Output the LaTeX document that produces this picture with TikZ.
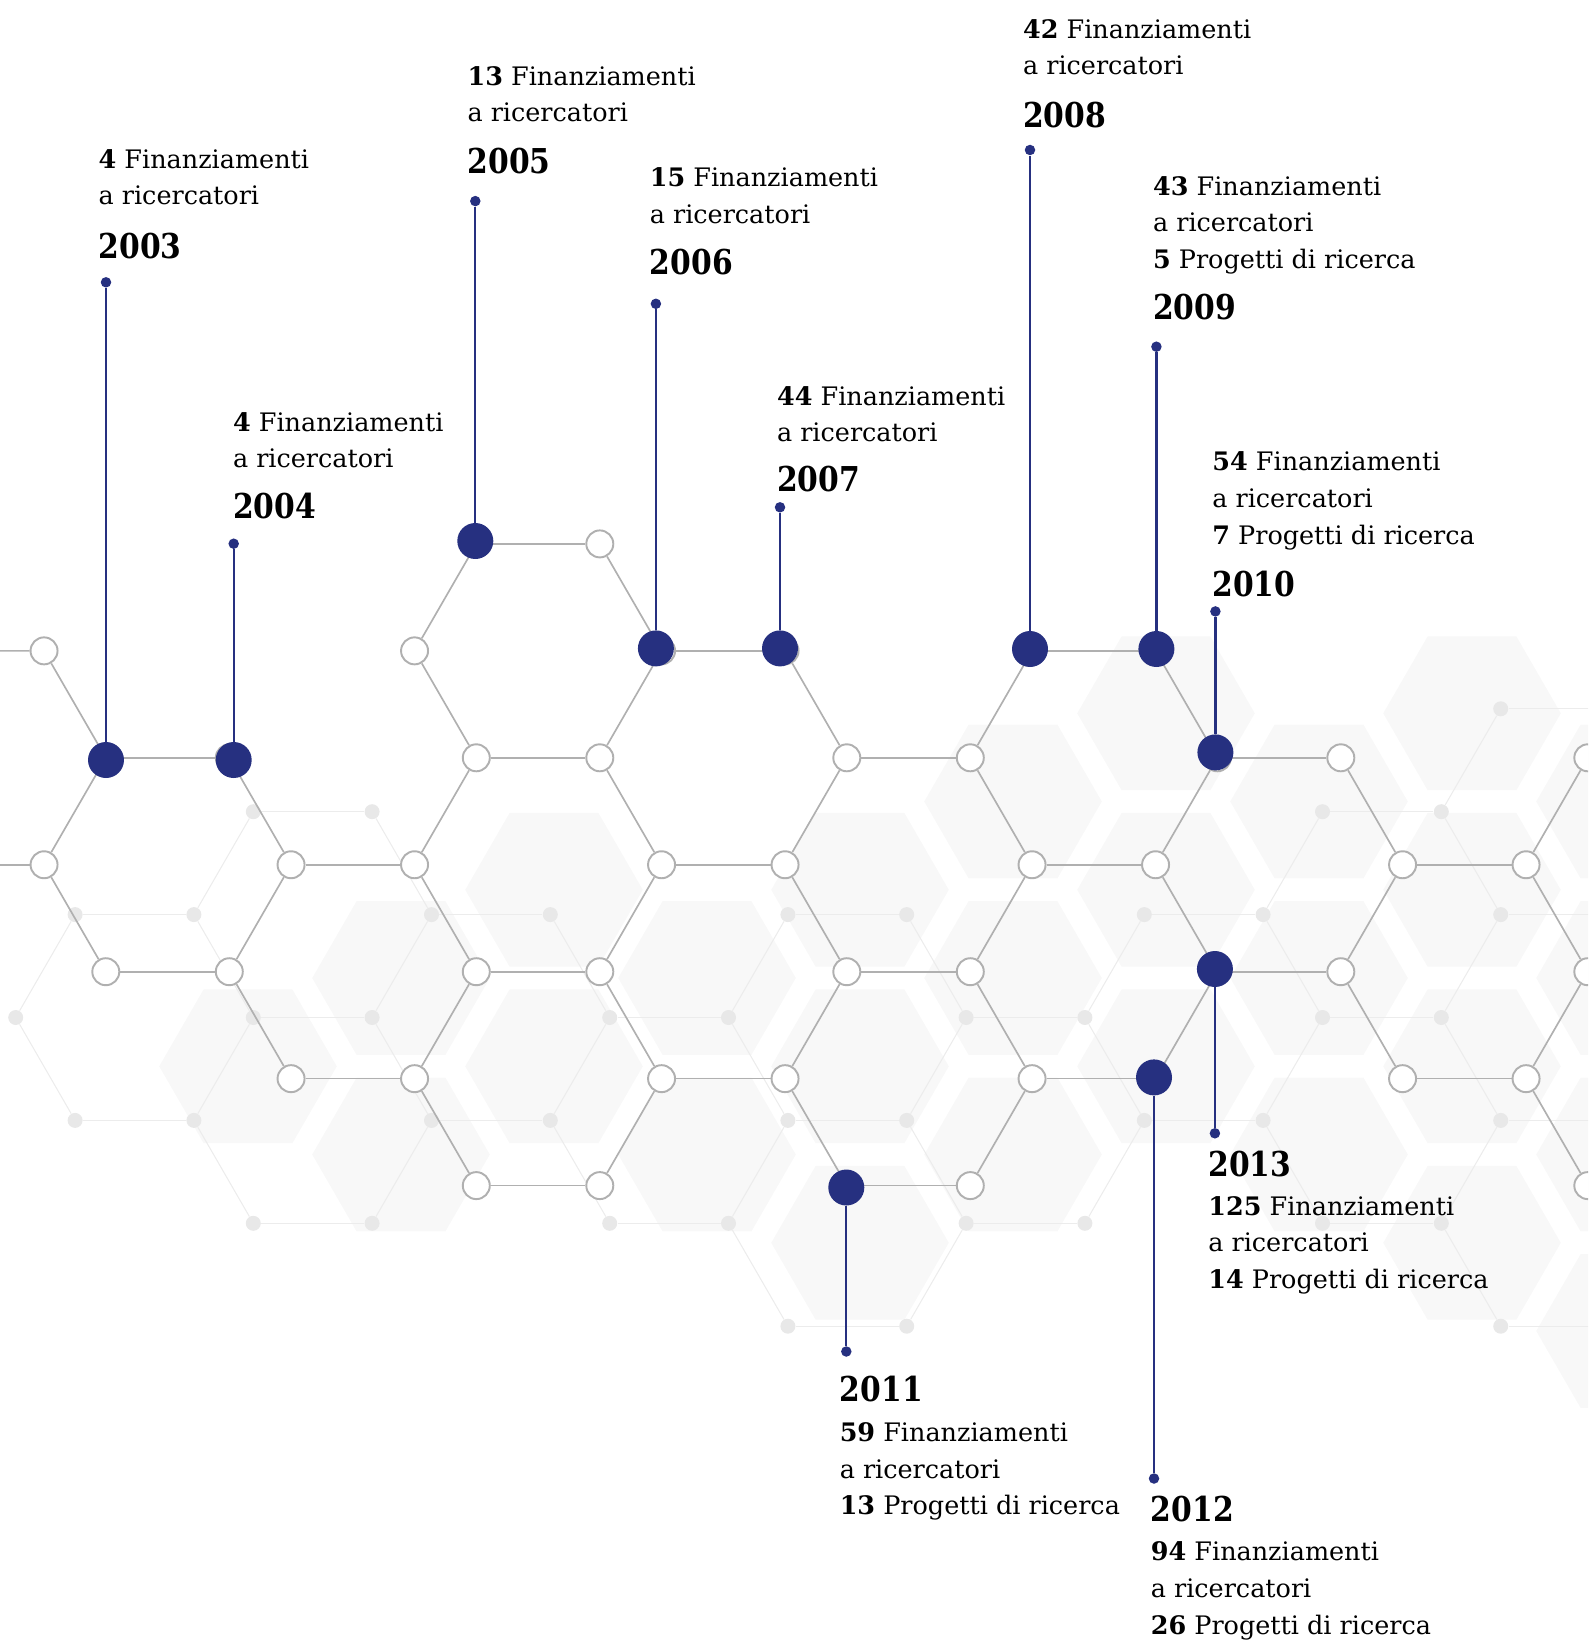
\documentclass[tikz,border=0pt]{standalone}
\usepackage{fontspec}
\setmainfont{DejaVu Serif}
\newfontfamily\yearfont[FakeStretch=0.87]{DejaVu Serif}
\usetikzlibrary{calc}

\definecolor{navy}{RGB}{38,48,128}
\definecolor{bondgrey}{RGB}{176,176,176}
\definecolor{palehex}{RGB}{248,248,248}
\definecolor{faintline}{RGB}{236,236,236}
\definecolor{faintdot}{RGB}{232,232,232}

\tikzset{
  vtx/.style={draw=bondgrey, line width=1.1pt, fill=white, circle, minimum size=0.54cm, inner sep=0pt},
  bond/.style={bondgrey, line width=0.95pt},
  fdot/.style={fill=faintdot, circle, minimum size=0.3cm, inner sep=0pt},
  fline/.style={faintline, line width=0.6pt},
  milest/.style={fill=navy, circle, minimum size=0.72cm, inner sep=0pt},
  enddot/.style={fill=navy, circle, minimum size=0.21cm, inner sep=0pt},
  stemline/.style={navy, line width=1.3pt},
  yearlbl/.style={anchor=base west, inner sep=0pt, font=\yearfont\fontsize{19.5}{22}\selectfont\bfseries},
  infolbl/.style={anchor=base west, inner sep=0pt, align=left, font=\fontsize{14.5}{20.8}\selectfont},
}

\def\palehexagon(#1,#2){
  \fill[palehex] (#1,#2) +(0:88.8) -- +(60:88.8) -- +(120:88.8) -- +(180:88.8) -- +(240:88.8) -- +(300:88.8) -- cycle;
}
% #7 is the baseline of the last text line
\def\milestone(#1,#2,#3,#4,#5,#6,#7,#8){
  \node[milest] (h#1) at (#2,#3) {};
  \node[enddot] (t#1) at (#2,#4) {};
  \draw[stemline] (h#1) -- (t#1);
  \node[yearlbl] (y#1) at (#5,#6) {#1};
  \node[infolbl] (i#1) at (#5,#7) {#8};
}

\begin{document}
\begin{tikzpicture}[x=0.02cm, y=-0.02cm]
\useasboundingbox (0,0) rectangle (1588,1642);
\clip (0,0) rectangle (1588,1642);

% background
\foreach \hx/\hy in {248/1066.3, 401/978, 401/1154.5, 554/889.8, 554/1066.3, 707/978, 707/1154.5,
  860/889.8, 860/1066.3, 860/1242.8, 1013/801.5, 1013/978, 1013/1154.5, 1166/713.3, 1166/889.8,
  1166/1066.3, 1319/801.5, 1319/978, 1319/1154.5, 1472/713.3, 1472/889.8, 1472/1066.3, 1472/1242.8,
  1625/801.5, 1625/978, 1625/1154.5, 1625/1331}
  {\palehexagon(\hx,\hy)}

\foreach \row/\cols in {0/{19,20}, 1/{5,6,17,18}, 2/{3,4,7,8,11,12,15,16,19,20}, 3/{2,5,6,9,10,13,14,17,18},
  4/{3,4,7,8,11,12,15,16,19,20}, 5/{5,6,9,10,13,14,17,18}, 6/{11,12,19,20}}{
  \foreach \col in \cols
    \node[fdot] (f\row c\col) at ({-162.5+59.4*floor(1.5*\col)},{708.8+102.9*\row}) {};
}
\foreach \a/\b in {0c19/0c20, 1c5/1c6, 1c17/1c18, 2c3/2c4, 2c7/2c8, 2c11/2c12, 2c15/2c16, 2c19/2c20,
  3c5/3c6, 3c9/3c10, 3c13/3c14, 3c17/3c18, 4c3/4c4, 4c7/4c8, 4c11/4c12, 4c15/4c16, 4c19/4c20,
  5c5/5c6, 5c9/5c10, 5c13/5c14, 5c17/5c18, 6c11/6c12, 6c19/6c20,
  0c19/1c18, 1c5/2c4, 1c6/2c7, 1c17/2c16, 1c18/2c19,
  2c3/3c2, 2c4/3c5, 2c7/3c6, 2c8/3c9, 2c11/3c10, 2c12/3c13, 2c15/3c14, 2c16/3c17, 2c19/3c18,
  3c2/4c3, 3c5/4c4, 3c6/4c7, 3c9/4c8, 3c10/4c11, 3c13/4c12, 3c14/4c15, 3c17/4c16, 3c18/4c19,
  4c4/5c5, 4c7/5c6, 4c8/5c9, 4c11/5c10, 4c12/5c13, 4c15/5c14, 4c16/5c17, 4c19/5c18,
  5c10/6c11, 5c13/6c12, 5c18/6c19}
  \draw[fline] (f\a) -- (f\b);

% lattice
\foreach \row/\cols in {0/{5,6}, 1/{0,4,7,8,11,12}, 2/{1,2,5,6,9,10,13,14,17}, 3/{0,3,4,7,8,11,12,15,16},
  4/{1,2,5,6,9,10,13,14,17}, 5/{3,4,7,8,11,12,15,16}, 6/{5,6,9,10,17}}{
  \foreach \col in \cols
    \node[vtx] (v\row c\col) at ({44.05+61.75*floor(1.5*\col)},{543.9+106.95*\row}) {};
}
\coordinate (wl1) at (0,650.85);
\coordinate (wl3) at (0,864.75);
\coordinate (er2) at (1600,757.8);
\coordinate (er4) at (1600,971.7);
\coordinate (er6) at (1600,1185.6);

\foreach \a/\b in {0c5/0c6, 1c7/1c8, 1c11/1c12, 2c1/2c2, 2c5/2c6, 2c9/2c10, 2c13/2c14,
  3c3/3c4, 3c7/3c8, 3c11/3c12, 3c15/3c16, 4c1/4c2, 4c5/4c6, 4c9/4c10, 4c13/4c14,
  5c3/5c4, 5c7/5c8, 5c11/5c12, 5c15/5c16, 6c5/6c6, 6c9/6c10,
  1c0/2c1, 2c1/3c0, 3c0/4c1, 2c2/3c3, 3c3/4c2, 4c2/5c3, 0c5/1c4, 1c4/2c5, 0c6/1c7, 1c7/2c6,
  2c5/3c4, 2c6/3c7, 3c4/4c5, 3c7/4c6, 4c5/5c4, 4c6/5c7, 5c4/6c5, 5c7/6c6,
  1c8/2c9, 2c9/3c8, 3c8/4c9, 4c9/5c8, 5c8/6c9, 1c11/2c10, 2c10/3c11, 3c11/4c10, 4c10/5c11, 5c11/6c10,
  1c12/2c13, 2c13/3c12, 3c12/4c13, 4c13/5c12, 2c14/3c15, 3c15/4c14, 4c14/5c15,
  2c17/3c16, 3c16/4c17, 4c17/5c16, 5c16/6c17}
  \draw[bond] (v\a) -- (v\b);
\draw[bond] (wl1) -- (v1c0);
\draw[bond] (wl3) -- (v3c0);
\draw[bond] (v2c17) -- (er2);
\draw[bond] (v4c17) -- (er4);
\draw[bond] (v6c17) -- (er6);

% years
\milestone(2003,106,760,282.3,98.3,258.3,205,\textbf{4} Finanziamenti\\a ricercatori)
\milestone(2004,233.7,760,543.7,232.7,518.3,467.7,\textbf{4} Finanziamenti\\a ricercatori)
\milestone(2005,475.3,541,201.1,467.2,173.4,121.8,\textbf{13} Finanziamenti\\a ricercatori)
\milestone(2006,655.9,648.4,303.8,649.5,275,223.5,\textbf{15} Finanziamenti\\a ricercatori)
\milestone(2007,780,648.4,507.3,776.7,491.7,441.7,\textbf{44} Finanziamenti\\a ricercatori)
\milestone(2008,1030,649,150,1022.7,127.7,75,\textbf{42} Finanziamenti\\a ricercatori)
\milestone(2009,1156.4,649,346.7,1152.7,319.3,268.3,\textbf{43} Finanziamenti\\a ricercatori\\\textbf{5} Progetti di ricerca)
\milestone(2010,1215.4,752.4,611.4,1212,596,544,\textbf{54} Finanziamenti\\a ricercatori\\\textbf{7} Progetti di ricerca)
\milestone(2011,846.3,1187.5,1351.5,839.4,1401.8,1514.8,\textbf{59} Finanziamenti\\a ricercatori\\\textbf{13} Progetti di ricerca)
\milestone(2012,1154,1077.4,1478.5,1150.5,1521.7,1634,\textbf{94} Finanziamenti\\a ricercatori\\\textbf{26} Progetti di ricerca)
\milestone(2013,1214.9,969,1133.3,1208,1176,1288.3,\textbf{125} Finanziamenti\\a ricercatori\\\textbf{14} Progetti di ricerca)
\end{tikzpicture}
\end{document}
